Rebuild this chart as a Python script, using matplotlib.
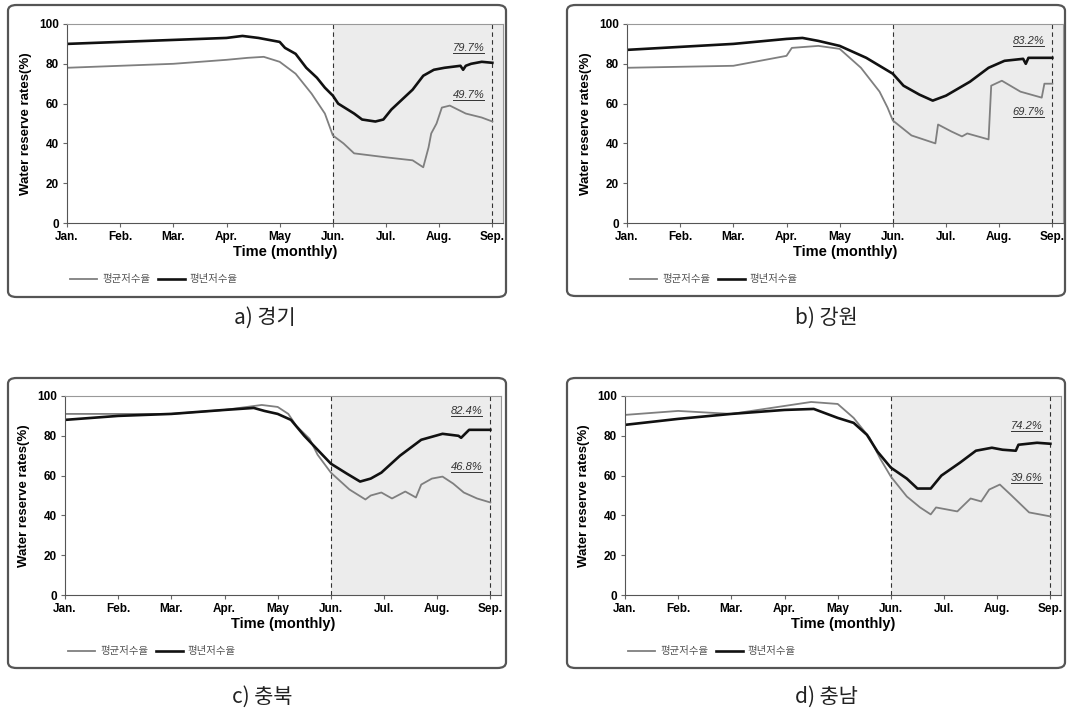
import matplotlib
matplotlib.use("Agg")
import matplotlib.pyplot as plt
from matplotlib.patches import FancyBboxPatch
from matplotlib.lines import Line2D

# month labels (x = months since Jan. 1)
months = ['Jan.', 'Feb.', 'Mar.', 'Apr.', 'May', 'Jun.', 'Jul.', 'Aug.', 'Sep.']
series_names = ['평균저수율', '평년저수율']

# a) 경기
a_gray_x = [0, 1, 2, 3, 3.4, 3.7, 4.0, 4.3, 4.6, 4.85, 5.0, 5.2, 5.4, 5.7, 6.0, 6.5, 6.7, 6.8, 6.85, 6.95, 7.05, 7.2, 7.5, 7.8, 8.0]
a_gray_y = [78, 79, 80, 82, 83, 83.5, 81, 75, 65, 55, 44, 40, 35, 34, 33, 31.5, 28, 38, 45, 50, 58, 59, 55, 53, 51]
a_black_x = [0, 1, 2, 3, 3.3, 3.6, 4.0, 4.1, 4.3, 4.5, 4.7, 4.85, 5.0, 5.1, 5.4, 5.55, 5.8, 5.95, 6.1, 6.3, 6.5, 6.7, 6.9, 7.1, 7.4, 7.45, 7.5, 7.6, 7.8, 8.0]
a_black_y = [90, 91, 92, 93, 94, 93, 91, 88, 85, 78, 73, 68, 64, 60, 55, 52, 51, 52, 57, 62, 67, 74, 77, 78, 79, 77, 79, 80, 81, 80.5]
a_labels = ['79.7%', '49.7%']
a_label_y = [85.5, 62]

# b) 강원
b_gray_x = [0, 1, 2, 3, 3.1, 3.6, 4.0, 4.4, 4.75, 4.9, 5.0, 5.35, 5.8, 5.85, 6.1, 6.3, 6.4, 6.8, 6.85, 7.05, 7.4, 7.8, 7.85, 8.0]
b_gray_y = [78, 78.5, 79, 84, 88, 89, 87.5, 78, 66, 58, 51.5, 44, 40, 49.5, 46, 43.5, 45, 42, 69, 71.5, 66, 63, 70, 70]
b_black_x = [0, 1, 2, 3, 3.3, 3.6, 4.0, 4.5, 5.0, 5.2, 5.5, 5.75, 6.0, 6.45, 6.8, 7.1, 7.45, 7.5, 7.55, 7.7, 8.0]
b_black_y = [87, 88.5, 90, 92.5, 93, 91.5, 89, 83, 75, 69, 64.5, 61.5, 64, 71, 78, 81.5, 82.5, 80, 83, 83, 83]
b_labels = ['83.2%', '69.7%']
b_label_y = [89, 53.5]

# c) 충북
c_gray_x = [0, 1, 2, 3, 3.7, 4.0, 4.2, 4.35, 4.6, 4.75, 5.0, 5.35, 5.65, 5.75, 5.95, 6.15, 6.4, 6.6, 6.7, 6.9, 7.1, 7.3, 7.5, 7.75, 8.0]
c_gray_y = [91, 91, 91, 93, 95.5, 94.5, 91, 85, 78.5, 70.5, 61.5, 53, 48, 50, 51.5, 48.5, 52, 49, 55.5, 58.5, 59.5, 56, 51.5, 48.5, 46.5]
c_black_x = [0, 1, 2, 3, 3.55, 3.75, 4.0, 4.25, 4.5, 4.75, 5.0, 5.3, 5.55, 5.75, 5.95, 6.3, 6.7, 7.1, 7.4, 7.45, 7.6, 8.0]
c_black_y = [88, 90, 91, 93, 94, 92.5, 91, 88, 80, 73, 66, 61, 57, 58.5, 61.5, 70, 78, 81, 80, 79, 83, 83]
c_labels = ['82.4%', '46.8%']
c_label_y = [90, 62]

# d) 충남
d_gray_x = [0, 1, 2, 3, 3.5, 4.0, 4.3, 4.6, 4.8, 5.0, 5.3, 5.55, 5.75, 5.85, 6.25, 6.5, 6.7, 6.85, 7.05, 7.25, 7.6, 8.0]
d_gray_y = [90.5, 92.5, 91, 95, 97, 96, 89, 79, 68.5, 59.5, 49.5, 44, 40.5, 44, 42, 48.5, 47, 53, 55.5, 50.5, 41.5, 39.5]
d_black_x = [0, 1, 2, 3, 3.55, 3.8, 4.0, 4.3, 4.55, 4.75, 5.0, 5.3, 5.5, 5.75, 5.95, 6.3, 6.6, 6.9, 7.1, 7.35, 7.4, 7.75, 8.0]
d_black_y = [85.5, 88.5, 91, 93, 93.5, 91, 89, 86.5, 80.5, 72, 64, 58.5, 53.5, 53.5, 60, 66.5, 72.5, 74, 73, 72.5, 75.5, 76.5, 76]
d_labels = ['74.2%', '39.6%']
d_label_y = [82.5, 56.5]

captions = ['a) 경기', 'b) 강원', 'c) 충북', 'd) 충남']

panels = [
    (a_gray_x, a_gray_y, a_black_x, a_black_y, a_labels, a_label_y),
    (b_gray_x, b_gray_y, b_black_x, b_black_y, b_labels, b_label_y),
    (c_gray_x, c_gray_y, c_black_x, c_black_y, c_labels, c_label_y),
    (d_gray_x, d_gray_y, d_black_x, d_black_y, d_labels, d_label_y),
]

W, H = 1073, 714
fig = plt.figure(figsize=(W / 100, H / 100), dpi=100)
fig.patch.set_facecolor('white')

# pixel layout: (axes left, axes bottom y, box left, box top, box bottom, caption x, caption y)
layout = [
    (67, 223, 8, 5, 297, 265, 318),
    (627, 223, 567, 5, 296, 826, 318),
    (65, 595, 8, 378, 668, 262, 697),
    (625, 595, 567, 378, 668, 826, 697),
]
ax_w, ax_h = 436, 199
box_w = 498

cjk = ['Noto Sans CJK KR', 'DejaVu Sans']
lat = ['Liberation Sans', 'DejaVu Sans']

for i, (gx, gy, bx, by, labs, laby) in enumerate(panels):
    axl, axb, bxl, bxt, bxb, cx, cy = layout[i]

    box = FancyBboxPatch((bxl / W, 1 - bxb / H), box_w / W, (bxb - bxt) / H,
                         boxstyle='round,pad=0,rounding_size=0.008',
                         transform=fig.transFigure, facecolor='white',
                         edgecolor='#555555', linewidth=1.6, zorder=-5)
    fig.patches.append(box)

    ax = fig.add_axes([axl / W, 1 - axb / H, ax_w / W, ax_h / H])
    ax.set_facecolor('white')
    ax.axvspan(5, 8.2, color='#ececec', zorder=0, linewidth=0)
    ax.axvline(5, color='#333333', linestyle=(0, (4, 3)), linewidth=0.8)
    ax.axvline(8, color='#333333', linestyle=(0, (4, 3)), linewidth=0.8)

    l1, = ax.plot(gx, gy, color='#7f7f7f', linewidth=1.3, label=series_names[0])
    l2, = ax.plot(bx, by, color='#111111', linewidth=1.9, label=series_names[1])

    ax.set_xlim(0, 8.2)
    ax.set_ylim(0, 100)
    ax.set_xticks(range(9))
    ax.set_xticklabels(months, fontsize=8.5, fontweight='bold', family=lat)
    ax.set_yticks([0, 20, 40, 60, 80, 100])
    ax.set_yticklabels(['0', '20', '40', '60', '80', '100'], fontsize=8.5,
                       fontweight='bold', family=lat)
    ax.tick_params(length=3, width=0.8, color='#666666', pad=3)
    for sp in ax.spines.values():
        sp.set_color('#999999')
        sp.set_linewidth(0.8)
    ax.spines['left'].set_color('#555555')
    ax.spines['bottom'].set_color('#555555')

    ax.set_xlabel('Time (monthly)', fontsize=10.5, fontweight='bold', family=lat, labelpad=1)
    ax.set_ylabel('Water reserve rates(%)', fontsize=9.5, fontweight='bold', family=lat, labelpad=5)

    for txt, yv in zip(labs, laby):
        t = ax.text(7.55, yv, txt, fontsize=8, style='italic', color='#333333',
                    ha='center', va='bottom', family=lat)
        fig.canvas.draw()
        bb = t.get_window_extent().transformed(ax.transAxes.inverted())
        ax.add_line(Line2D([bb.x0, bb.x1], [bb.y0, bb.y0], transform=ax.transAxes,
                           color='#333333', linewidth=0.7))

    ax.legend(handles=[l1, l2], loc='upper left', bbox_to_anchor=(-0.015, -0.21),
              ncol=2, frameon=False, prop={'family': cjk, 'size': 7.5},
              handlelength=2.6, columnspacing=0.7, handletextpad=0.5,
              labelcolor='#555555')

    fig.text(cx / W, 1 - cy / H, captions[i], fontsize=15, family=cjk,
             ha='center', va='center', color='#222222')

fig.savefig('out.png', dpi=100, facecolor='white')
